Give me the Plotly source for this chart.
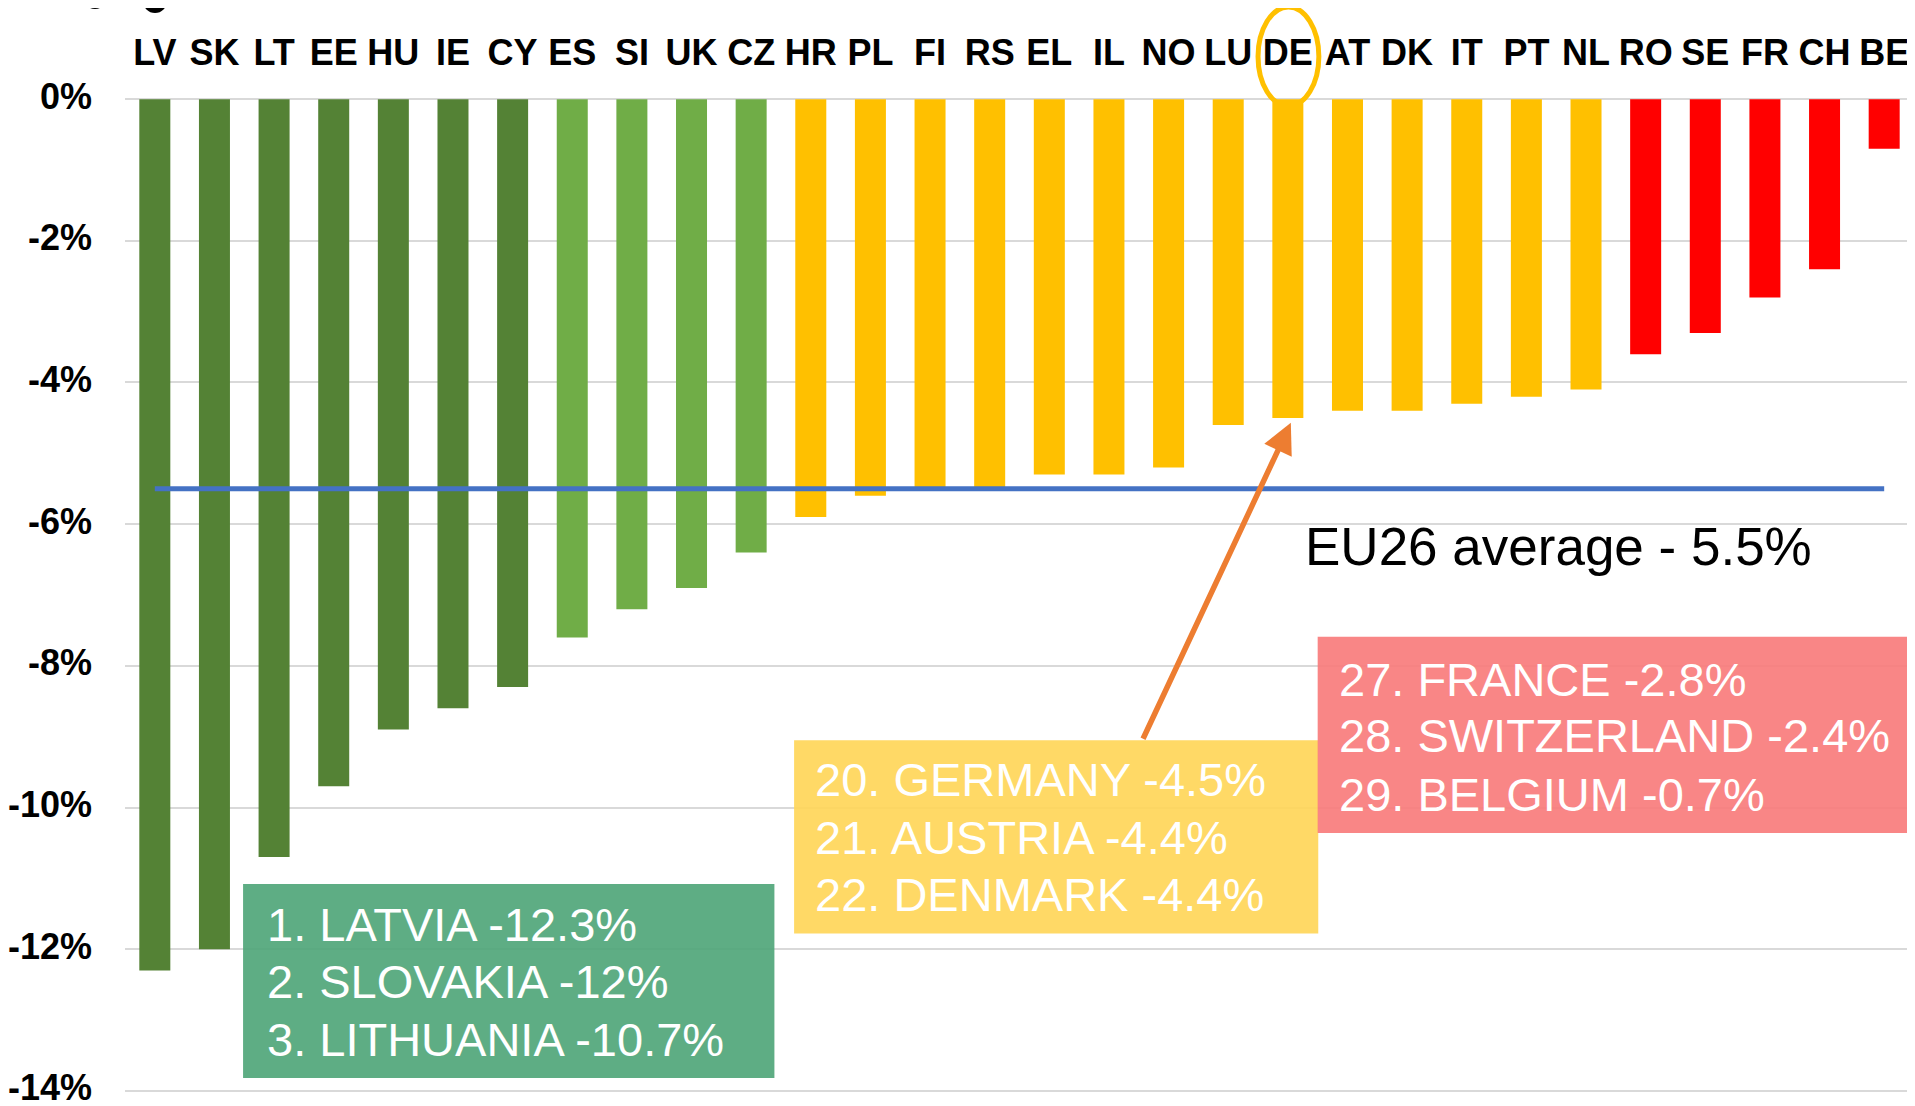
import plotly.graph_objects as go

# ---------------- data ----------------
countries = ["LV", "SK", "LT", "EE", "HU", "IE", "CY", "ES", "SI", "UK", "CZ",
             "HR", "PL", "FI", "RS", "EL", "IL", "NO", "LU", "DE", "AT", "DK",
             "IT", "PT", "NL", "RO", "SE", "FR", "CH", "BE"]
change_pct = [-12.3, -12.0, -10.7, -9.7, -8.9, -8.6, -8.3, -7.6, -7.2, -6.9, -6.4,
              -5.9, -5.6, -5.5, -5.5, -5.3, -5.3, -5.2, -4.6, -4.5, -4.4, -4.4,
              -4.3, -4.2, -4.1, -3.6, -3.3, -2.8, -2.4, -0.7]
tier = ["dark", "dark", "dark", "dark", "dark", "dark", "dark",
        "light", "light", "light", "light",
        "mid", "mid", "mid", "mid", "mid", "mid", "mid", "mid", "mid", "mid", "mid",
        "mid", "mid", "mid",
        "low", "low", "low", "low", "low"]
eu_average = -5.5
avg_label = "EU26 average - 5.5%"
highlight = "DE"
tick_vals = [0, -2, -4, -6, -8, -10, -12, -14]
tick_text = ["0%", "-2%", "-4%", "-6%", "-8%", "-10%", "-12%", "-14%"]
green_lines = ["1. LATVIA -12.3%", "2. SLOVAKIA -12%", "3. LITHUANIA -10.7%"]
yellow_lines = ["20. GERMANY -4.5%", "21. AUSTRIA -4.4%", "22. DENMARK -4.4%"]
red_lines = ["27. FRANCE -2.8%", "28. SWITZERLAND -2.4%", "29. BELGIUM -0.7%"]

# ---------------- styles ----------------
tier_colors = {"dark": "#548235", "light": "#70AD47", "mid": "#FFC000", "low": "#FF0000"}
FONT = "Liberation Sans, Arial, sans-serif"
OFF = 8  # page body margin
W, H = 1915 - OFF, 1106 - OFF
ML, MR, MT, MB = 125 - OFF, 1, 97 - OFF, 13
PW, PH = W - ML - MR, H - MT - MB


def px_x(px):  # screen pixel -> paper
    return (px - OFF - ML) / PW


def px_y(py):
    return (H - MB - (py - OFF)) / PH


fig = go.Figure()
fig.add_trace(go.Bar(
    x=countries, y=change_pct,
    marker=dict(color=[tier_colors[t] for t in tier], line=dict(width=0)),
    hoverinfo="x+y", showlegend=False,
))
fig.add_trace(go.Scatter(
    x=[countries[0], countries[-1]], y=[eu_average, eu_average],
    mode="lines", line=dict(color="#4472C4", width=5), showlegend=False,
    hoverinfo="skip",
))

shapes = []
# annotation boxes (data coordinates: category index / value)
boxes = [
    (1.48, 10.39, -11.08, -13.82, "rgb(80,166,121)"),
    (10.72, 19.51, -9.05, -11.78, "rgb(255,214,89)"),
    (19.50, 29.60, -7.59, -10.36, "rgb(248,124,124)"),
]
for x0, x1, y0, y1, c in boxes:
    shapes.append(dict(type="rect", xref="x", yref="y", x0=x0, x1=x1, y0=y0, y1=y1,
                       fillcolor=c, opacity=0.92, line=dict(width=0), layer="above"))

# highlight ellipse around DE label
di = countries.index(highlight)
shapes.append(dict(type="circle", xref="x", yref="paper",
                   x0=di - 0.5, x1=di + 0.52, y0=px_y(106), y1=px_y(7),
                   line=dict(color="#FFC000", width=5), layer="above"))

# cut-off black marks at the very top-left
for (a, b, c, d) in [(83, 107, -15, 9), (143, 167, -11, 13)]:
    shapes.append(dict(type="circle", xref="paper", yref="paper",
                       x0=px_x(a), x1=px_x(b), y0=px_y(d), y1=px_y(c),
                       fillcolor="black", line=dict(width=0), layer="above"))

annotations = []
rows = [
    (green_lines, 1.84, [-11.65, -12.46, -13.27]),
    (yellow_lines, 11.03, [-9.61, -10.43, -11.23]),
    (red_lines, 19.83, [-8.19, -8.99, -9.82]),
]
for lines, x, ys in rows:
    for t, y in zip(lines, ys):
        annotations.append(dict(x=x, y=y, xref="x", yref="y", text=t, showarrow=False,
                                xanchor="left", yanchor="middle",
                                font=dict(family=FONT, size=47, color="white")))

annotations.append(dict(x=19.26, y=-6.31, xref="x", yref="y", text=avg_label,
                        showarrow=False, xanchor="left", yanchor="middle",
                        font=dict(family=FONT, size=53, color="black")))

# arrow from the yellow box to the DE bar
annotations.append(dict(x=di + 0.05, y=-4.57, xref="x", yref="y",
                        ax=16.56, ay=-9.05, axref="x", ayref="y",
                        text="", showarrow=True, arrowhead=2, arrowsize=1.1,
                        arrowwidth=5.5, arrowcolor="#ED7D31", standoff=0, startstandoff=0))

fig.update_layout(
    width=W, height=H,
    margin=dict(l=ML, r=MR, t=MT, b=MB),
    paper_bgcolor="white", plot_bgcolor="white",
    bargap=0.48,
    shapes=shapes, annotations=annotations,
    showlegend=False,
    font=dict(family=FONT),
)
fig.update_xaxes(
    side="top", type="category", range=[-0.5, len(countries) - 0.5],
    showgrid=False, showline=False, zeroline=False, ticks="",
    tickfont=dict(family=FONT, size=36, color="black", weight="bold"),
    ticklabelstandoff=24, automargin=False, fixedrange=True,
    ticklabeloverflow="allow",
)
fig.update_yaxes(
    range=[-14.03, 0.03], tickvals=tick_vals, ticktext=tick_text,
    showgrid=True, gridcolor="#D9D9D9", gridwidth=2,
    zeroline=False, showline=False, ticks="",
    tickfont=dict(family=FONT, size=36, color="black", weight="bold"),
    ticklabelstandoff=32, ticklabelshift=-3, automargin=False, fixedrange=True,
    ticklabeloverflow="allow",
)

fig.write_html("out.html")
